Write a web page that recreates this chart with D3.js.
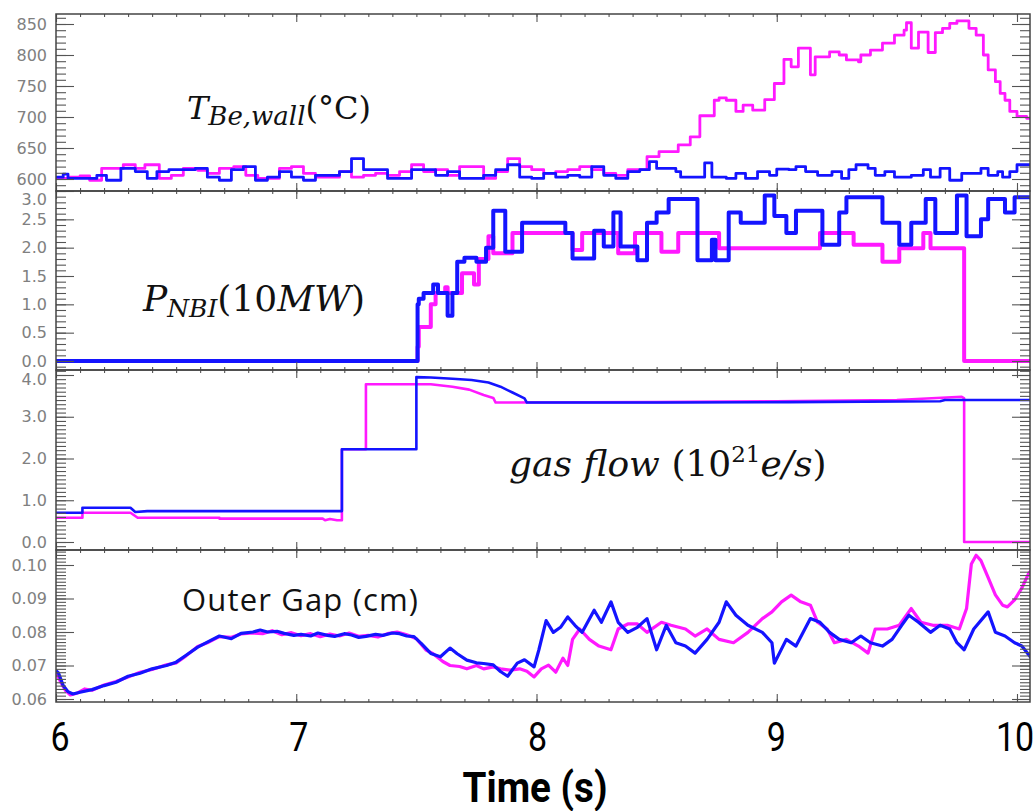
<!DOCTYPE html>
<html>
<head>
<meta charset="utf-8">
<script src="https://cdn.jsdelivr.net/npm/d3@7"></script>
<style>
body { margin: 0; background: #fff; }
svg { display: block; }
.tick text { font-family: "DejaVu Sans", sans-serif; font-size: 16px; fill: #808080; }
.tick line { stroke: #555; stroke-width: 1.1; }
.math { font-family: "DejaVu Serif", serif; fill: #111; }
</style>
</head>
<body>
<div id="plot"></div>
<script>
// time axis (s)
const timeTicks = [6, 7, 8, 9, 10];

// wall temperature (degC), [time, value] step changes
const tbeMagenta = [[6.00,601],[6.05,603],[6.10,605],[6.14,598],[6.19,617],[6.28,623],[6.33,617],[6.37,623],[6.43,601],[6.48,606],[6.53,617],[6.59,614],[6.63,609],[6.68,617],[6.74,620],[6.79,606],[6.84,601],[6.93,617],[6.98,620],[7.03,609],[7.08,603],[7.18,612],[7.23,603],[7.28,606],[7.33,609],[7.38,606],[7.43,612],[7.48,623],[7.53,612],[7.58,615],[7.63,606],[7.68,620],[7.78,601],[7.83,612],[7.88,633],[7.93,620],[7.98,615],[8.03,609],[8.08,612],[8.13,615],[8.18,620],[8.23,615],[8.28,609],[8.33,606],[8.38,615],[8.46,636],[8.51,644],[8.59,655],[8.64,668],[8.68,702],[8.74,727],[8.76,731],[8.79,727],[8.83,709],[8.86,719],[8.90,711],[8.95,728],[8.99,754],[9.03,793],[9.06,781],[9.09,811],[9.14,768],[9.16,797],[9.22,805],[9.26,800],[9.29,792],[9.34,789],[9.35,800],[9.39,808],[9.44,819],[9.49,832],[9.53,840],[9.54,852],[9.56,811],[9.59,837],[9.63,804],[9.66,836],[9.69,843],[9.72,851],[9.75,855],[9.80,843],[9.83,832],[9.86,800],[9.88,776],[9.91,757],[9.93,738],[9.95,727],[9.97,709],[10.00,701],[10.04,698],[10.06,682]];
const tbeBlue = [[6.00,603],[6.03,608],[6.05,601],[6.17,606],[6.21,598],[6.27,617],[6.33,612],[6.38,601],[6.42,612],[6.47,615],[6.58,617],[6.63,603],[6.68,598],[6.73,615],[6.78,620],[6.83,598],[6.88,603],[6.93,612],[6.98,603],[7.03,598],[7.08,606],[7.18,612],[7.23,633],[7.28,615],[7.38,601],[7.48,615],[7.58,606],[7.63,612],[7.68,601],[7.78,606],[7.83,615],[7.88,623],[7.93,603],[7.98,601],[8.03,609],[8.08,603],[8.13,606],[8.18,603],[8.23,620],[8.28,606],[8.33,601],[8.38,612],[8.43,615],[8.47,628],[8.50,617],[8.58,612],[8.60,603],[8.70,626],[8.73,603],[8.79,601],[8.83,609],[8.87,601],[8.92,612],[8.97,606],[9.00,616],[9.05,615],[9.08,620],[9.12,612],[9.17,606],[9.23,612],[9.27,601],[9.30,615],[9.33,623],[9.38,617],[9.41,606],[9.45,612],[9.49,603],[9.56,606],[9.61,615],[9.64,603],[9.68,617],[9.72,598],[9.77,609],[9.85,617],[9.88,606],[9.92,612],[9.94,603],[9.97,612],[10.00,623],[10.06,623]];

// NBI power (10 MW), step changes
const nbiMagenta = [[6.00,0],[7.505,0.25],[7.51,0.6],[7.56,1.0],[7.58,1.2],[7.62,1.3],[7.63,1.2],[7.69,1.55],[7.74,1.35],[7.76,1.8],[7.80,2.2],[7.82,1.9],[7.90,2.26],[8.15,1.96],[8.19,2.26],[8.34,1.90],[8.41,2.26],[8.52,1.93],[8.59,2.26],[8.76,1.99],[9.18,2.26],[9.32,2.05],[9.44,1.75],[9.51,1.99],[9.61,2.26],[9.64,1.99],[9.78,0],[10.06,0]];
const nbiBlue = [[6.00,0],[7.505,1.0],[7.51,1.1],[7.53,1.2],[7.57,1.35],[7.59,1.2],[7.63,0.8],[7.65,1.2],[7.67,1.75],[7.70,1.82],[7.75,1.75],[7.79,2.0],[7.82,2.65],[7.87,1.93],[7.94,2.44],[8.12,2.26],[8.15,1.81],[8.24,2.30],[8.28,2.02],[8.32,2.62],[8.35,2.02],[8.42,1.78],[8.46,2.44],[8.50,2.62],[8.55,2.86],[8.67,1.78],[8.73,2.14],[8.745,1.78],[8.80,2.62],[8.85,2.44],[8.95,2.92],[8.99,2.56],[9.04,2.26],[9.08,2.65],[9.19,2.05],[9.26,2.62],[9.29,2.89],[9.44,2.44],[9.51,2.05],[9.56,2.44],[9.62,2.86],[9.66,2.26],[9.75,2.92],[9.79,2.20],[9.85,2.50],[9.88,2.86],[9.95,2.62],[9.99,2.89],[10.06,2.89]];

// gas flow (1e21 e/s)
const gasMagenta = [[6.00,0.58],[6.11,0.58],[6.11,0.70],[6.31,0.70],[6.34,0.58],[6.68,0.58],[6.68,0.56],[7.11,0.56],[7.12,0.52],[7.14,0.55],[7.17,0.52],[7.19,0.52],[7.19,2.22],[7.29,2.22],[7.29,3.78],[7.50,3.78],[7.56,3.78],[7.65,3.72],[7.72,3.65],[7.78,3.52],[7.82,3.45],[7.83,3.34],[8.50,3.35],[9.00,3.37],[9.50,3.40],[9.77,3.48],[9.78,3.44],[9.78,0.0],[10.06,0.0]];
const gasBlue = [[6.00,0.70],[6.11,0.70],[6.11,0.82],[6.31,0.82],[6.33,0.72],[6.38,0.74],[7.19,0.74],[7.19,2.22],[7.50,2.22],[7.50,3.95],[7.56,3.94],[7.65,3.91],[7.73,3.88],[7.80,3.82],[7.85,3.72],[7.90,3.58],[7.95,3.44],[7.96,3.34],[8.50,3.34],[9.05,3.35],[9.68,3.37],[9.70,3.40],[10.06,3.40]];

// outer gap (cm)
const gapMagenta = [[6.00,0.0680],[6.02,0.0650],[6.04,0.0625],[6.06,0.0612],[6.09,0.0618],[6.12,0.0630],[6.15,0.0626],[6.20,0.0642],[6.25,0.0652],[6.30,0.0666],[6.35,0.0680],[6.40,0.0688],[6.46,0.0702],[6.50,0.0708],[6.54,0.0728],[6.59,0.0757],[6.63,0.0768],[6.68,0.0786],[6.73,0.0784],[6.77,0.0794],[6.82,0.0797],[6.86,0.0795],[6.90,0.0804],[6.94,0.0792],[6.98,0.0798],[7.02,0.0789],[7.06,0.0795],[7.10,0.0786],[7.14,0.0794],[7.18,0.0788],[7.22,0.0797],[7.26,0.0787],[7.30,0.0790],[7.34,0.0785],[7.38,0.0795],[7.42,0.0800],[7.46,0.0792],[7.50,0.0780],[7.54,0.0746],[7.57,0.0735],[7.61,0.0712],[7.64,0.0700],[7.68,0.0697],[7.71,0.0690],[7.75,0.0700],[7.78,0.0690],[7.82,0.0696],[7.85,0.0690],[7.89,0.0686],[7.93,0.0690],[7.96,0.0683],[7.99,0.0666],[8.02,0.0690],[8.05,0.0701],[8.08,0.0680],[8.11,0.0722],[8.13,0.0700],[8.15,0.0778],[8.18,0.0809],[8.22,0.0778],[8.26,0.0758],[8.31,0.0747],[8.34,0.0809],[8.38,0.0824],[8.42,0.0824],[8.46,0.0799],[8.52,0.0829],[8.56,0.0820],[8.62,0.0809],[8.66,0.0788],[8.71,0.0809],[8.76,0.0778],[8.82,0.0768],[8.88,0.0799],[8.94,0.0840],[8.98,0.0860],[9.02,0.0890],[9.06,0.0910],[9.10,0.0890],[9.14,0.0880],[9.17,0.0829],[9.21,0.0809],[9.24,0.0768],[9.29,0.0778],[9.34,0.0758],[9.38,0.0737],[9.41,0.0809],[9.46,0.0809],[9.51,0.0820],[9.56,0.0870],[9.60,0.0829],[9.65,0.0820],[9.71,0.0820],[9.76,0.0809],[9.79,0.0870],[9.81,0.1003],[9.83,0.1029],[9.85,0.1013],[9.88,0.0962],[9.91,0.0911],[9.94,0.0880],[9.96,0.0875],[9.99,0.0896],[10.02,0.0931],[10.05,0.0977],[10.06,0.0983]];
const gapBlue = [[6.00,0.0685],[6.01,0.0678],[6.03,0.0640],[6.05,0.0622],[6.07,0.0615],[6.10,0.0620],[6.15,0.0628],[6.20,0.0640],[6.25,0.0650],[6.30,0.0668],[6.35,0.0677],[6.40,0.0690],[6.46,0.0700],[6.50,0.0710],[6.54,0.0730],[6.59,0.0755],[6.63,0.0770],[6.68,0.0788],[6.73,0.0780],[6.77,0.0796],[6.82,0.0800],[6.85,0.0806],[6.88,0.0800],[6.92,0.0802],[6.95,0.0796],[6.99,0.0790],[7.02,0.0793],[7.06,0.0788],[7.09,0.0797],[7.13,0.0790],[7.16,0.0787],[7.20,0.0795],[7.23,0.0791],[7.26,0.0784],[7.29,0.0787],[7.33,0.0793],[7.36,0.0790],[7.40,0.0797],[7.43,0.0795],[7.46,0.0788],[7.49,0.0786],[7.52,0.0766],[7.56,0.0736],[7.60,0.0726],[7.64,0.0752],[7.67,0.0735],[7.71,0.0716],[7.75,0.0708],[7.78,0.0706],[7.82,0.0702],[7.85,0.0682],[7.88,0.0668],[7.92,0.0707],[7.95,0.0717],[7.99,0.0696],[8.01,0.0747],[8.04,0.0834],[8.07,0.0799],[8.10,0.0814],[8.13,0.0845],[8.16,0.0820],[8.19,0.0799],[8.24,0.0865],[8.27,0.0829],[8.31,0.0890],[8.34,0.0829],[8.38,0.0799],[8.42,0.0814],[8.46,0.0840],[8.50,0.0747],[8.54,0.0820],[8.58,0.0768],[8.62,0.0758],[8.66,0.0737],[8.71,0.0778],[8.76,0.0829],[8.79,0.0890],[8.83,0.0850],[8.88,0.0820],[8.94,0.0799],[8.98,0.0768],[8.99,0.0707],[9.04,0.0778],[9.08,0.0758],[9.11,0.0799],[9.14,0.0840],[9.18,0.0829],[9.22,0.0799],[9.26,0.0778],[9.31,0.0768],[9.35,0.0788],[9.39,0.0768],[9.44,0.0758],[9.48,0.0778],[9.52,0.0820],[9.55,0.0850],[9.59,0.0829],[9.64,0.0799],[9.68,0.0820],[9.72,0.0809],[9.75,0.0768],[9.78,0.0747],[9.82,0.0809],[9.88,0.0860],[9.91,0.0799],[9.95,0.0788],[9.99,0.0768],[10.02,0.0758],[10.06,0.0722]];

const width = 1034, height = 811;
const left = 56, right = 1030;
const magenta = "#ff19ff", blue = "#1414ff";

const svg = d3.select("#plot").append("svg")
    .attr("width", width)
    .attr("height", height);

const x = d3.scaleLinear().domain([6, 10]).range([left, 1017]);

// one entry per stacked panel
const panels = [
    { top: 14, bottom: 191, y: d3.scaleLinear().domain([600, 850]).range([179, 24]),
      major: 50, minor: 10, fmt: d3.format("d"), series: [tbeMagenta, tbeBlue], curve: d3.curveStepAfter, lw: 2.8 },
    { top: 191, bottom: 370, y: d3.scaleLinear().domain([0, 3]).range([361, 191]),
      major: 0.5, minor: 0.1, fmt: d3.format(".1f"), series: [nbiMagenta, nbiBlue], curve: d3.curveStepAfter, lw: 4 },
    { top: 370, bottom: 550, y: d3.scaleLinear().domain([0, 4]).range([542, 375]),
      major: 1, minor: 0.1, fmt: d3.format(".1f"), series: [gasMagenta, gasBlue], curve: d3.curveLinear, lw: 2.6 },
    { top: 550, bottom: 702, y: d3.scaleLinear().domain([0.06, 0.10]).range([699, 565]),
      major: 0.01, minor: 0.001, fmt: d3.format(".2f"), series: [gapMagenta, gapBlue], curve: d3.curveLinear, lw: 3.2 }
];

const minorTimes = d3.range(60, 101).map(d => d / 10);

panels.forEach(function(p, i) {
    const g = svg.append("g");
    const lo = p.y.invert(p.bottom), hi = p.y.invert(p.top);
    const n0 = Math.ceil(lo / p.major - 1e-6), n1 = Math.floor(hi / p.major + 1e-6);
    const majors = d3.range(n0, n1 + 1).map(k => k * p.major);
    const m0 = Math.ceil(lo / p.minor), m1 = Math.floor(hi / p.minor);
    const minors = d3.range(m0, m1 + 1).map(k => k * p.minor);

    svg.append("clipPath").attr("id", "clip" + i)
        .append("rect")
        .attr("x", left).attr("y", p.top)
        .attr("width", right - left).attr("height", p.bottom - p.top);

    // data lines
    const line = d3.line()
        .x(d => x(d[0]))
        .y(d => p.y(d[1]))
        .curve(p.curve);
    const lines = g.append("g").attr("clip-path", "url(#clip" + i + ")");
    p.series.forEach(function(s, j) {
        lines.append("path").datum(s)
            .attr("d", line)
            .attr("fill", "none")
            .attr("stroke", j === 0 ? magenta : blue)
            .attr("stroke-width", p.lw)
            .attr("stroke-linejoin", "round");
    });

    // left axis (labels) and right axis
    g.append("g").attr("transform", `translate(${left},0)`)
        .call(d3.axisLeft(p.y).tickValues(minors).tickSize(-10).tickFormat(""))
        .call(a => a.select(".domain").remove());
    g.append("g").attr("transform", `translate(${left},0)`)
        .call(d3.axisLeft(p.y).tickValues(majors).tickSize(-18).tickPadding(9).tickFormat(p.fmt))
        .call(a => a.select(".domain").remove())
        .call(a => a.selectAll(".tick text")
            .attr("dy", d => {
                const off = p.y(d) - p.top;
                return off < 2 ? "0.85em" : off < 7 ? "0.6em" : "0.32em";
            }));
    g.append("g").attr("transform", `translate(${right},0)`)
        .call(d3.axisRight(p.y).tickValues(minors).tickSize(-10).tickFormat(""))
        .call(a => a.select(".domain").remove());
    g.append("g").attr("transform", `translate(${right},0)`)
        .call(d3.axisRight(p.y).tickValues(majors).tickSize(-18).tickFormat(""))
        .call(a => a.select(".domain").remove());

    // top and bottom time ticks
    [[p.top, d3.axisTop], [p.bottom, d3.axisBottom]].forEach(function(e) {
        g.append("g").attr("transform", `translate(0,${e[0]})`)
            .call(e[1](x).tickValues(minorTimes).tickSize(-3).tickFormat(""))
            .call(a => a.select(".domain").remove());
        g.append("g").attr("transform", `translate(0,${e[0]})`)
            .call(e[1](x).tickValues(timeTicks).tickSize(-8).tickFormat(""))
            .call(a => a.select(".domain").remove());
    });

    g.append("rect")
        .attr("x", left).attr("y", p.top)
        .attr("width", right - left).attr("height", p.bottom - p.top)
        .attr("fill", "none")
        .attr("stroke", "#444")
        .attr("stroke-width", 1.5);
});

// panel labels
const t1 = svg.append("text").attr("class", "math").attr("x", 187).attr("y", 119).attr("font-size", 32);
t1.append("tspan").attr("font-style", "italic").text("T");
t1.append("tspan").attr("font-style", "italic").attr("font-size", 26).attr("dy", 6).text("Be,wall");
t1.append("tspan").attr("dy", -6).text("(°C)");

const t2 = svg.append("text").attr("class", "math").attr("x", 143).attr("y", 311).attr("font-size", 36);
t2.append("tspan").attr("font-style", "italic").text("P");
t2.append("tspan").attr("font-style", "italic").attr("font-size", 25).attr("dy", 6).text("NBI");
t2.append("tspan").attr("dy", -6).text("(10");
t2.append("tspan").attr("font-style", "italic").text("MW");
t2.append("tspan").text(")");

const t3 = svg.append("text").attr("class", "math").attr("x", 509).attr("y", 476).attr("font-size", 36);
t3.append("tspan").attr("font-style", "italic").text("gas flow ");
t3.append("tspan").text("(10");
t3.append("tspan").attr("font-size", 23).attr("dy", -14).text("21");
t3.append("tspan").attr("font-style", "italic").attr("dy", 14).text("e/s");
t3.append("tspan").text(")");

svg.append("text")
    .attr("x", 182).attr("y", 611)
    .attr("font-family", "'Open Sans', sans-serif")
    .attr("font-size", 31)
    .attr("textLength", 236)
    .attr("fill", "#111")
    .text("Outer Gap (cm)");

// time labels under the plot
svg.append("g").selectAll("text")
    .data(timeTicks)
    .enter()
    .append("text")
    .attr("transform", d => `translate(${x(d) + 4 - (d - 6) * 1.5},751) scale(0.85,1)`)
    .attr("text-anchor", "middle")
    .attr("font-family", "Roboto, sans-serif")
    .attr("font-size", 40)
    .attr("fill", "#000")
    .text(d => d);

svg.append("text")
    .attr("transform", "translate(535,802) scale(0.92,1)")
    .attr("text-anchor", "middle")
    .attr("font-family", "Roboto, sans-serif")
    .attr("font-weight", "bold")
    .attr("font-size", 42)
    .attr("fill", "#000")
    .text("Time (s)");
</script>
</body>
</html>
